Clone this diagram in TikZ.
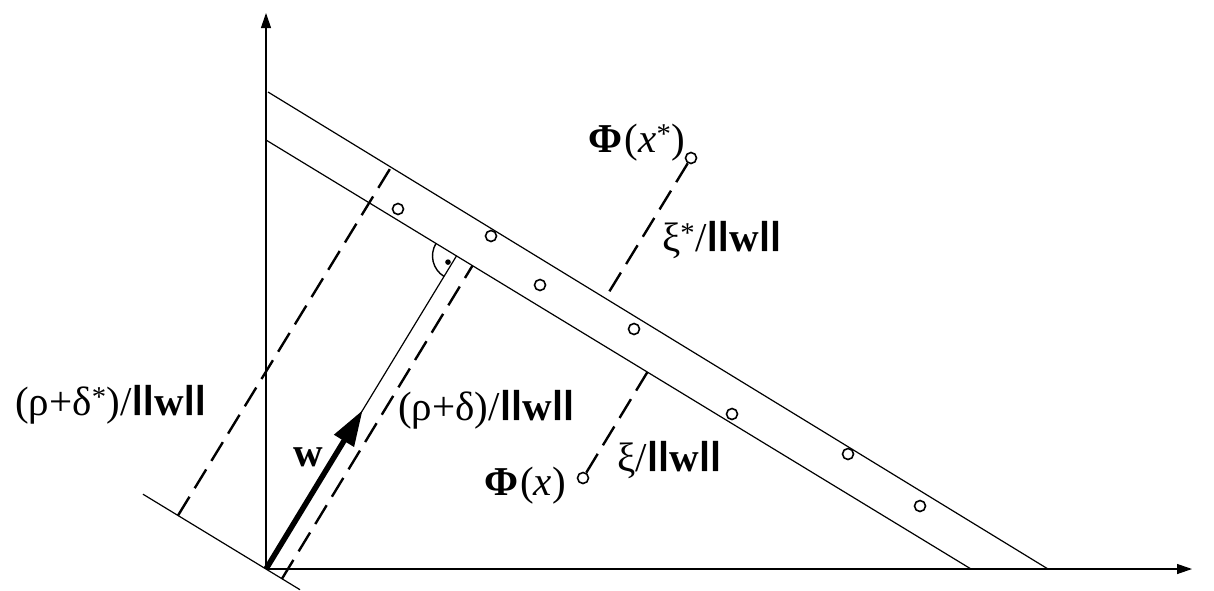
\documentclass[tikz,border=0pt]{standalone}
\usepackage{fontspec}
\setmainfont{Liberation Serif}
\setsansfont{Liberation Sans}
\usetikzlibrary{calc,arrows.meta}
\newcommand{\nbar}{\raisebox{0.16em}{\scalebox{1}[0.78]{\sffamily\bfseries|}}}
\newcommand{\nrm}{\nbar\kern-0.5pt\nbar\textbf{w}\nbar\kern-0.5pt\nbar}
\begin{document}
\begin{tikzpicture}[x=1pt,y=-1pt,
  thinl/.style={line width=1.2pt},
  axis/.style={line width=1.2pt,-{Triangle[length=15pt,width=10pt]}},
  dashline/.style={line width=2.4pt,dash pattern=on 22pt off 10pt},
  pt/.style={circle,draw,line width=1.6pt,minimum size=11pt,inner sep=0pt},
  lab/.style={font=\fontsize{41}{46}\selectfont,inner sep=0pt}]
\useasboundingbox (0,0) rectangle (1214,590);
\coordinate (O) at (266,569);
\coordinate (Ytip) at (266,13);
\coordinate (Xtip) at (1192,569);
\coordinate (A1) at (266,140); \coordinate (B1) at (971,569);
\coordinate (A2) at (268,92); \coordinate (B2) at (1048,569);
\coordinate (A0) at (143,494.2); \coordinate (B0) at (300,589.7);
\coordinate (F1) at ($(A1)!(O)!(B1)$);
\coordinate (S1) at (282,578.7);
\coordinate (E1) at ($(A1)!(S1)!(B1)$);
\coordinate (S2) at (178,515.5);
\coordinate (E2) at ($(A2)!(S2)!(B2)$);
\node[pt] (c1) at (691,158) {};
\node[pt] (c2) at (583,478) {};
\coordinate (E3) at ($(A2)!(c1)!(B2)$);
\coordinate (E4) at ($(A1)!(c2)!(B1)$);
\coordinate (W) at ($(O)!186pt!(F1)$);
% axes
\draw[axis] (O) -- (Ytip);
\draw[axis] (O) -- (Xtip);
% lines
\draw[thinl] (A1) -- (B1);
\draw[thinl] (A2) -- (B2);
\draw[thinl] (A0) -- (B0);
\draw[thinl] (O) -- (F1);
\draw[line width=5.5pt,-{Triangle[length=36pt,width=22pt]}] (O) -- (W);
% dashed
\draw[dashline] (S1) -- (E1);
\draw[dashline] (S2) -- (E2);
\draw[dashline] (c1) -- (E3);
\draw[dashline] (c2) -- (E4);
% right angle
\draw[line width=1.4pt] ($(F1)+(211.3:24)$) arc[start angle=211.3,end angle=121.3,radius=24];
\fill ($(F1)+(144:10.5)$) circle[radius=2.8];
% points
\node[pt] (p1) at (398,209) {};
\node[pt] (p2) at (491,236) {};
\node[pt] (p3) at (540,285) {};
\node[pt] (p4) at (634,329) {};
\node[pt] (p5) at (732,414) {};
\node[pt] (p6) at (848,454) {};
\node[pt] (p7) at (920,506) {};
% labels
\node[lab,anchor=west] (l1) at (15,405) {(ρ+δ\textsuperscript{*})/\nrm};
\node[lab,anchor=west] (l2) at (398,410) {(ρ+δ)/\nrm};
\node[lab] (l3) at (308,457) {\textbf{w}};
\node[lab] (l4) at (637,143) {\textbf{Φ}\kern2pt(\textit{x}\textsuperscript{*})};
\node[lab,anchor=west] (l5) at (662,240) {ξ\textsuperscript{*}/\nrm};
\node[lab,anchor=west] (l6) at (617,460) {ξ/\nrm};
\node[lab,anchor=west] (l7) at (484,486) {\textbf{Φ}\kern2pt(\textit{x})};
\end{tikzpicture}
\end{document}
